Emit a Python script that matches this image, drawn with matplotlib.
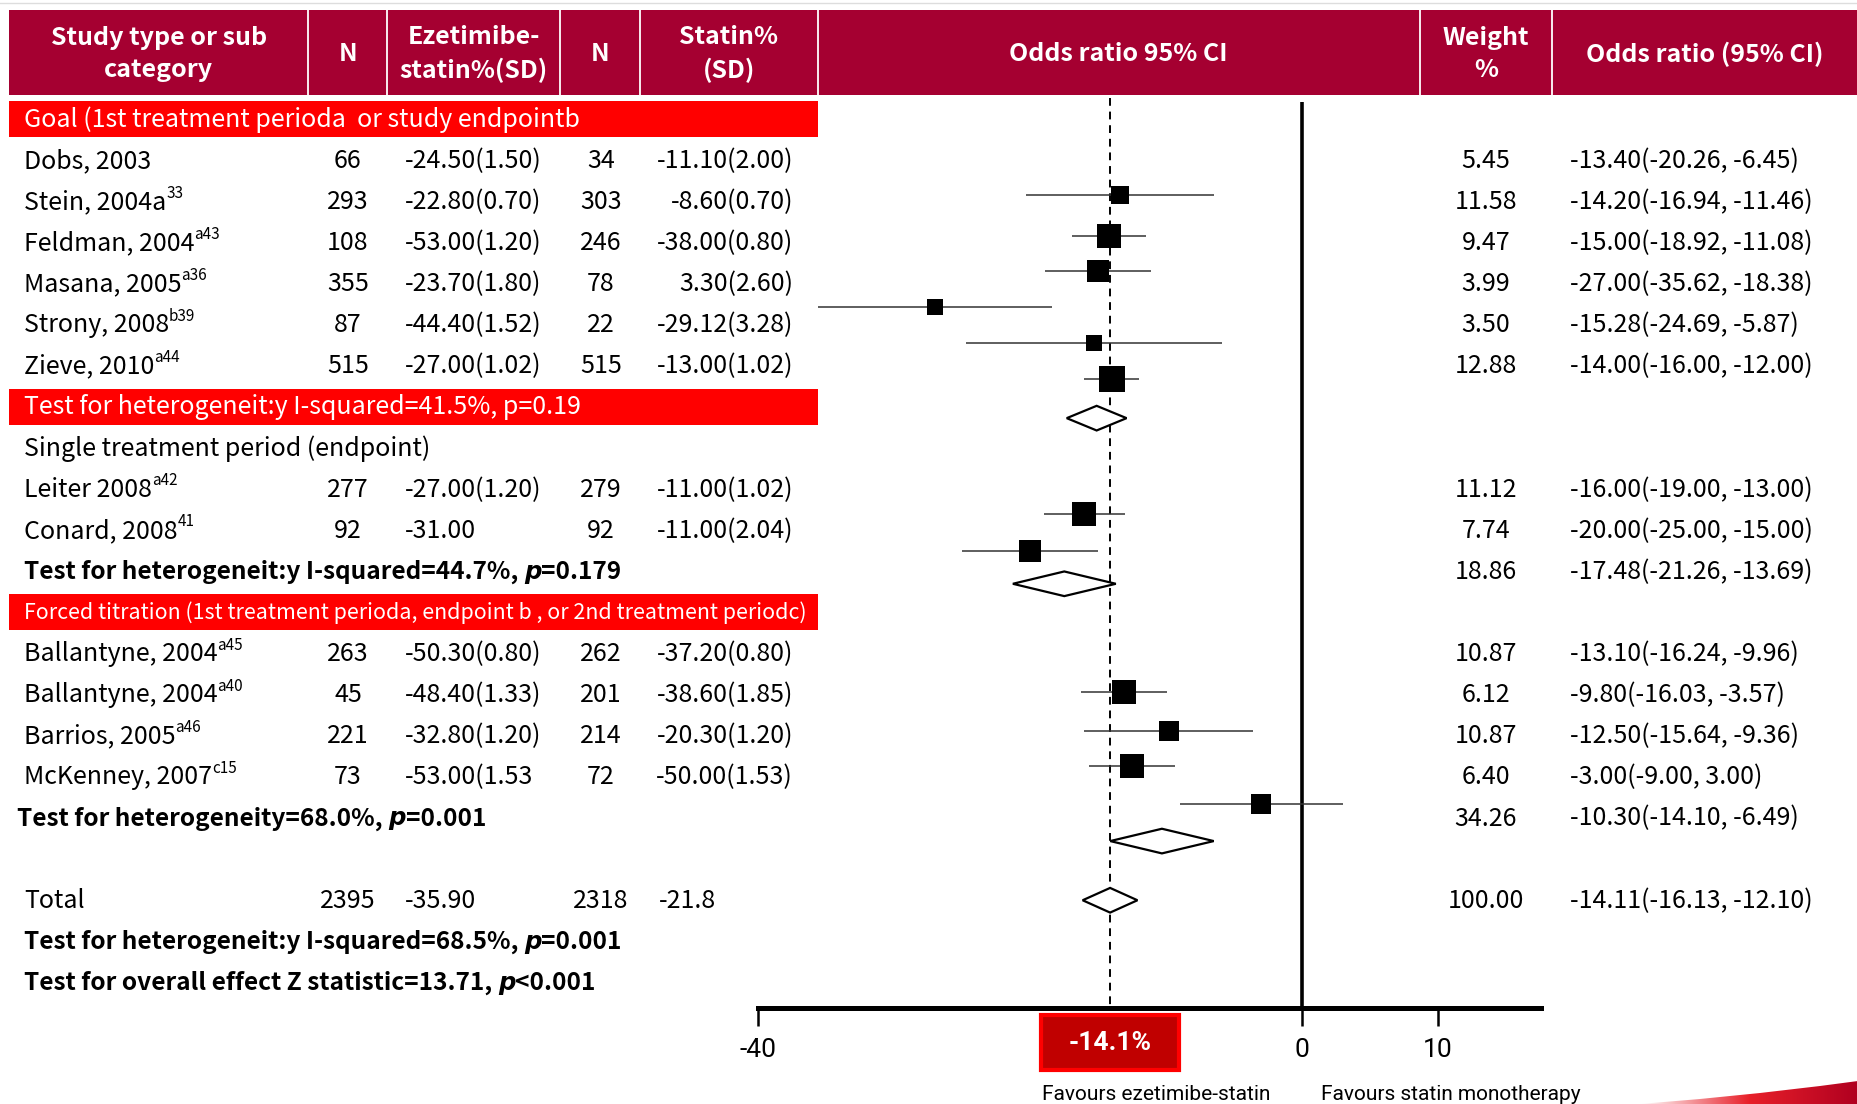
import numpy as np
import matplotlib
matplotlib.use('Agg')
import matplotlib.pyplot as plt
from matplotlib.patches import Rectangle, Polygon
from matplotlib.colors import LinearSegmentedColormap
from matplotlib import transforms

plt.rcParams['font.family'] = ['Noto Sans CJK KR', 'DejaVu Sans']

# ---- data ----
studies = ['Dobs, 2003', 'Stein, 2004a', 'Feldman, 2004', 'Masana, 2005', 'Strony, 2008', 'Zieve, 2010',
           'Leiter 2008', 'Conard, 2008', 'Ballantyne, 2004', 'Ballantyne, 2004', 'Barrios, 2005', 'McKenney, 2007']
refs = ['', '33', 'a43', 'a36', 'b39', 'a44', 'a42', '41', 'a45', 'a40', 'a46', 'c15']
n_eze = [66, 293, 108, 355, 87, 515, 277, 92, 263, 45, 221, 73]
eze_txt = ['-24.50(1.50)', '-22.80(0.70)', '-53.00(1.20)', '-23.70(1.80)', '-44.40(1.52)', '-27.00(1.02)',
           '-27.00(1.20)', '-31.00', '-50.30(0.80)', '-48.40(1.33)', '-32.80(1.20)', '-53.00(1.53']
n_stat = [34, 303, 246, 78, 22, 515, 279, 92, 262, 201, 214, 72]
stat_txt = ['-11.10(2.00)', '-8.60(0.70)', '-38.00(0.80)', '3.30(2.60)', '-29.12(3.28)', '-13.00(1.02)',
            '-11.00(1.02)', '-11.00(2.04)', '-37.20(0.80)', '-38.60(1.85)', '-20.30(1.20)', '-50.00(1.53)']
weight = [5.45, 11.58, 9.47, 3.99, 3.50, 12.88, 11.12, 7.74, 10.87, 6.12, 10.87, 6.40]
est = [-13.40, -14.20, -15.00, -27.00, -15.28, -14.00, -16.00, -20.00, -13.10, -9.80, -12.50, -3.00]
lo = [-20.26, -16.94, -18.92, -35.62, -24.69, -16.00, -19.00, -25.00, -16.24, -16.03, -15.64, -9.00]
hi = [-6.45, -11.46, -11.08, -18.38, -5.87, -12.00, -13.00, -15.00, -9.96, -3.57, -9.36, 3.00]

# pooled: goal group, single period, forced titration, total
sum_est = [-15.10, -17.48, -10.30, -14.11]
sum_lo = [-17.30, -21.26, -14.10, -16.13]
sum_hi = [-12.90, -13.69, -6.49, -12.10]
sum_weight = [None, 18.86, 34.26, 100.00]

total_n_eze, total_eze, total_n_stat, total_stat = 2395, '-35.90', 2318, '-21.8'

headers = ['Study type or sub\ncategory', 'N', 'Ezetimibe-\nstatin%(SD)', 'N', 'Statin%\n(SD)',
           'Odds ratio 95% CI', 'Weight\n%', 'Odds ratio (95% CI)']
bands = ['Goal (1st treatment perioda  or study endpointb',
         'Test for heterogeneit:y I-squared=41.5%, p=0.19',
         'Forced titration (1st treatment perioda, endpoint b , or 2nd treatment periodc)']

# ---- layout (pixels) ----
W, H = 1858, 1104
row0, pitch = 117.3, 41.1
def ry(r):
    return row0 + pitch * r + 2.5

study_rows = [1, 2, 3, 4, 5, 6, 9, 10, 13, 14, 15, 16]
plot_rows = [1.90, 2.88, 3.75, 4.61, 5.50, 6.37, 9.65, 10.55, 13.98, 14.93, 15.79, 16.71]
sum_rows = [7, 11, 17, 19]
sum_plot_rows = [7.32, 11.35, 17.61, 19.05]
band_rows = [0, 7, 12]
band_fs = [18, 18, 15.4]
col_edges = [9.5, 308, 387.5, 560.5, 640, 817.7, 1419.6, 1552, W]
x_name, x_n1, x_eze, x_n2, x_stat, x_w, x_or = 24, 348, 405, 601, 793, 1486, 1570

DARK = '#A50031'
RED = '#FF0000'
FS = 18
FSB = 17.6

fig = plt.figure(figsize=(W / 100, H / 100), dpi=100)
ax = fig.add_axes([0, 0, 1, 1])
ax.set_xlim(0, W)
ax.set_ylim(H, 0)
ax.axis('off')
renderer = fig.canvas.get_renderer()


def runs(x, y, pieces, **kw):
    tr = ax.transData
    for s, extra in pieces:
        opts = dict(kw)
        opts.update(extra)
        dy = opts.pop('dy', 0)
        t = ax.text(x, y, s, transform=transforms.offset_copy(tr, y=dy, units='dots'), **opts)
        ex = t.get_window_extent(renderer)
        tr = transforms.offset_copy(tr, x=ex.width, units='dots')


# header
ax.plot([0, W], [3, 3], color='#DDDDDD', lw=1)
ax.add_patch(Rectangle((col_edges[0], 9.5), W - col_edges[0], 85.5, fc=DARK, ec='none'))
for xe in col_edges[1:-1]:
    ax.plot([xe, xe], [9.5, 95], color='white', lw=1.3)
for i, h in enumerate(headers):
    xc = (col_edges[i] + col_edges[i + 1]) / 2
    ax.text(xc, 54, h, color='white', fontsize=FS, fontweight='bold', ha='center', va='center',
            linespacing=1.4)

# red bands
for r, s, f in zip(band_rows, bands, band_fs):
    yc = row0 + pitch * r
    ax.add_patch(Rectangle((col_edges[0], yc - 16.5), col_edges[5] - col_edges[0], 36, fc=RED, ec='none'))
    ax.text(x_name, ry(r), s, color='white', fontsize=f, va='center')

# study rows
sup = dict(fontsize=11, dy=9)
for i, r in enumerate(study_rows):
    y = ry(r)
    runs(x_name, y, [(studies[i], {}), (refs[i], sup)], fontsize=FS, va='center')
    ax.text(x_n1, y, str(n_eze[i]), fontsize=FS, ha='center', va='center')
    ax.text(x_eze, y, eze_txt[i], fontsize=FS, ha='left', va='center')
    ax.text(x_n2, y, str(n_stat[i]), fontsize=FS, ha='center', va='center')
    ax.text(x_stat, y, stat_txt[i], fontsize=FS, ha='right', va='center')
    ax.text(x_w, y, f'{weight[i]:.2f}', fontsize=FS, ha='center', va='center')
    ax.text(x_or, y, f'{est[i]:.2f}({lo[i]:.2f}, {hi[i]:.2f})', fontsize=FS, ha='left', va='center')

ax.text(x_name, ry(8), 'Single treatment period (endpoint)', fontsize=FS, va='center')

pit = dict(fontstyle='italic', family='DejaVu Sans')
bold = dict(fontsize=FSB, fontweight='bold', va='center')
runs(x_name, ry(11), [('Test for heterogeneit:y I-squared=44.7%, ', {}), ('p', pit), ('=0.179', {})], **bold)
runs(x_name - 7, ry(17), [('Test for heterogeneity=68.0%, ', {}), ('p', pit), ('=0.001', {})], **bold)
runs(x_name, ry(20), [('Test for heterogeneit:y I-squared=68.5%, ', {}), ('p', pit), ('=0.001', {})], **bold)
runs(x_name, ry(21), [('Test for overall effect Z statistic=13.71, ', {}), ('p', pit), ('<0.001', {})], **bold)

for k, r in enumerate(sum_rows):
    if sum_weight[k] is None:
        continue
    ax.text(x_w, ry(r), f'{sum_weight[k]:.2f}', fontsize=FS, ha='center', va='center')
    ax.text(x_or, ry(r), f'{sum_est[k]:.2f}({sum_lo[k]:.2f}, {sum_hi[k]:.2f})', fontsize=FS,
            ha='left', va='center')

yt = ry(19)
ax.text(x_name, yt, 'Total', fontsize=FS, va='center')
ax.text(x_n1, yt, str(total_n_eze), fontsize=FS, ha='center', va='center')
ax.text(x_eze, yt, total_eze, fontsize=FS, ha='left', va='center')
ax.text(x_n2, yt, str(total_n_stat), fontsize=FS, ha='center', va='center')
ax.text(659, yt, total_stat, fontsize=FS, ha='left', va='center')

# ---- forest plot ----
x0_px, unit = 1302, 13.6
axis_px = 1008.4
xmin, xmax = -40, 17.6
fa = fig.add_axes([(x0_px + unit * xmin) / W, 1 - axis_px / H, unit * (xmax - xmin) / W, axis_px / H])
fa.set_xlim(xmin, xmax)
fa.set_ylim((axis_px - row0) / pitch, -row0 / pitch)
fa.patch.set_alpha(0)
for sp in ['left', 'right', 'top']:
    fa.spines[sp].set_visible(False)
fa.spines['bottom'].set_linewidth(3.6)
fa.set_yticks([])
fa.set_xticks([-40, 0, 10])
fa.set_xticklabels(['-40', '0', '10'], family='Roboto', fontsize=19)
fa.tick_params(axis='x', length=13, width=1.8, pad=8)

ybot = (axis_px - row0) / pitch
fa.vlines(0, -0.375, ybot, color='black', lw=2.6)
fa.vlines(sum_est[-1], -0.46, ybot, color='black', lw=1.4, linestyles=(0, (4, 3)))

fa.hlines(plot_rows, lo, hi, color='#333333', lw=1.1)
for e, y, w in zip(est, plot_rows, weight):
    side = 1.185 * (3.2 + 5.23 * np.sqrt(w)) * 0.72
    fa.plot(e, y, marker='s', ms=side, color='black', mec='black', mew=0)

for e, l, h, y in zip(sum_est, sum_lo, sum_hi, sum_plot_rows):
    hh = 0.3
    fa.add_patch(Polygon([(l, y), (e, y - hh), (h, y), (e, y + hh)], closed=True,
                         fc='white', ec='black', lw=1.6, zorder=3))

# pooled estimate box
fa.add_patch(Rectangle((sum_est[-1] - 5.1, 21.85), 10.2, 1.33, fc='#C00000', ec=RED, lw=3, clip_on=False))
fa.text(sum_est[-1], 22.52, f'{sum_est[-1]:.1f}%', color='white', fontsize=19, fontweight='bold',
        family='Roboto', ha='center', va='center', clip_on=False)

ax.text(1042, 1094, 'Favours ezetimibe-statin', family='Roboto', fontsize=15, va='center')
ax.text(1321, 1094, 'Favours statin monotherapy', family='Roboto', fontsize=15, va='center')

# red swoosh, bottom right
sw = Polygon([(1640, H), (1700, 1099), (1760, 1093), (1820, 1086), (W, 1081), (W, H)], closed=True,
             fc='none', ec='none')
ax.add_patch(sw)
grad = np.linspace(0, 1, 256).reshape(1, -1)
cmap = LinearSegmentedColormap.from_list('sw', ['#FFFFFF', '#E8202A', '#B00020'])
im = ax.imshow(grad, extent=(1640, W, H, 1078), cmap=cmap, aspect='auto', zorder=2)
im.set_clip_path(sw)
ax.set_xlim(0, W)
ax.set_ylim(H, 0)

fig.savefig('out.png', dpi=100)
